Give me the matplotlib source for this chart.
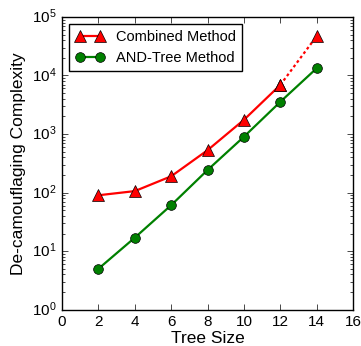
import matplotlib
matplotlib.use("Agg")
import matplotlib.pyplot as plt

plt.style.use("classic")
plt.rcParams["font.family"] = ["Liberation Sans", "DejaVu Sans"]
plt.rcParams["mathtext.fontset"] = "custom"
plt.rcParams["mathtext.rm"] = "Liberation Sans"

tree_size = [2, 4, 6, 8, 10, 12, 14]
combined = [90, 106, 190, 530, 1750, 6900, 47000]
and_tree = [5, 17, 61, 243, 900, 3550, 13300]

fig = plt.figure(figsize=(3.61, 3.46), dpi=100)
fig.patch.set_facecolor("white")
ax = fig.add_axes([0.172, 0.105, 0.806, 0.846])

ax.plot(tree_size[:6], combined[:6], color="red", lw=1.6, marker="^", ms=8,
        mfc="red", mec="black", label="Combined Method")
ax.plot(tree_size[5:], combined[5:], color="red", lw=1.6, ls=(0, (2, 2)),
        marker="^", ms=8, mfc="red", mec="black")
ax.plot(tree_size, and_tree, color="green", lw=1.6, marker="o", ms=7,
        mfc="green", mec="black", label="AND-Tree Method")

ax.set_yscale("log")
ax.set_xlim(0, 16)
ax.set_ylim(1, 1e5)
ax.set_xticks(range(0, 17, 2))
ax.tick_params(labelsize=11)
ax.set_xlabel("Tree Size", fontsize=12.5, labelpad=1)
ax.set_ylabel("De-camouflaging Complexity", fontsize=12.5, labelpad=4)
leg = ax.legend(loc="upper left", numpoints=2, fontsize=10.5, handlelength=2,
                borderaxespad=0.5)
fig.savefig("out.png", dpi=100, facecolor="white")
